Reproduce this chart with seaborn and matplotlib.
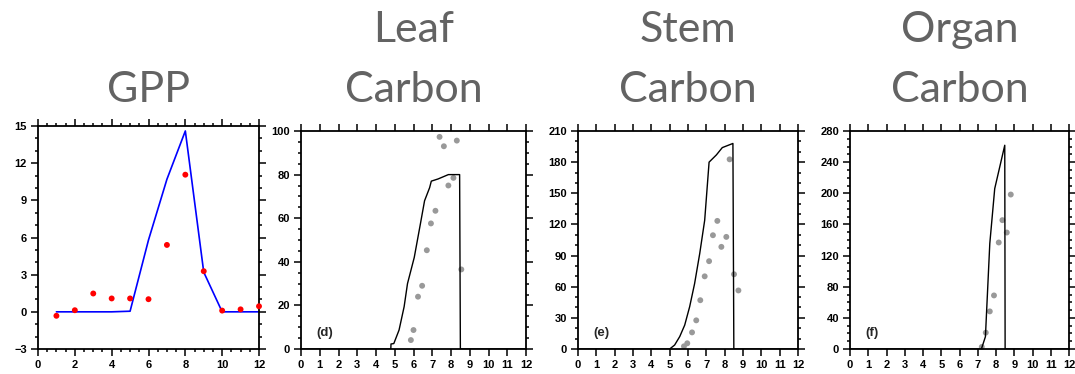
import matplotlib
matplotlib.use('Agg')
import matplotlib.pyplot as plt
from matplotlib.ticker import MultipleLocator
import seaborn as sns

# GPP panel (monthly)
gpp_month = [1, 2, 3, 4, 5, 6, 7, 8, 9, 10, 11, 12]
gpp_model = [0, 0, 0, 0, 0.05, 5.8, 10.7, 14.6, 3.2, 0, 0, 0]
gpp_obs = [-0.32, 0.13, 1.48, 1.08, 1.08, 1.02, 5.4, 11.07, 3.28, 0.1, 0.2, 0.45]

# Leaf carbon
leaf_x = [0, 4.79, 4.8, 4.95, 5.23, 5.5, 5.68, 6.04, 6.37, 6.59, 6.86, 6.95, 7.31, 7.86, 8.46, 8.5, 12]
leaf_y = [0, 0, 2.3, 2.5, 8.7, 19.4, 30, 42, 57.5, 68, 74, 77, 78, 80, 80, 0, 0]
leaf_obs_x = [5.86, 6.0, 6.24, 6.46, 6.71, 6.93, 7.17, 7.39, 7.62, 7.86, 8.13, 8.31, 8.55]
leaf_obs_y = [4.1, 8.7, 24, 29, 45.3, 57.6, 63.4, 97.3, 93, 75, 78.5, 95.6, 36.5]

# Stem carbon
stem_x = [0, 5.0, 5.27, 5.55, 5.82, 6.09, 6.36, 6.64, 6.91, 7.15, 7.55, 7.87, 8.45, 8.5, 12]
stem_y = [0, 0, 3.8, 12, 23, 40.7, 63, 92, 124, 180, 187, 194, 198, 0, 0]
stem_obs_x = [5.78, 5.96, 6.22, 6.45, 6.67, 6.91, 7.15, 7.36, 7.6, 7.82, 8.09, 8.27, 8.51, 8.75]
stem_obs_y = [2.6, 5.5, 16, 27.6, 47, 70, 84.6, 109.6, 123.4, 98.4, 108, 182.7, 72, 56.4]

# Organ carbon
organ_x = [0, 7.2, 7.42, 7.66, 7.93, 8.48, 8.5, 12]
organ_y = [0, 0, 15.8, 135.5, 206, 261.7, 0, 0]
organ_obs_x = [7.22, 7.44, 7.66, 7.89, 8.15, 8.35, 8.59, 8.81]
organ_obs_y = [2.6, 21, 48.3, 68.8, 136.8, 165.5, 149.6, 198.4]

sns.set_style('ticks')
plt.rcParams['font.family'] = ['Liberation Sans', 'DejaVu Sans']

W, H = 1075, 374
fig = plt.figure(figsize=(W / 100, H / 100), dpi=100)


def make_ax(left, top, right, bottom):
    return fig.add_axes([left / W, 1 - bottom / H, (right - left) / W, (bottom - top) / H])


def style_ax(ax, xmaj, xmin, ymaj, ymin, ylim):
    ax.set_xlim(0, 12)
    ax.set_ylim(*ylim)
    ax.xaxis.set_major_locator(MultipleLocator(xmaj))
    ax.xaxis.set_minor_locator(MultipleLocator(xmin))
    ax.yaxis.set_major_locator(MultipleLocator(ymaj))
    ax.yaxis.set_minor_locator(MultipleLocator(ymin))
    ax.tick_params(which='both', direction='out', top=True, right=True,
                   labelsize=8, width=1.1, colors='black', pad=3)
    ax.tick_params(which='major', length=5)
    ax.tick_params(which='minor', length=2.5)
    for lab in ax.get_xticklabels() + ax.get_yticklabels():
        lab.set_fontweight('bold')
    for s in ax.spines.values():
        s.set_visible(True)
        s.set_linewidth(1.3)
        s.set_color('black')
    ax.set_xlabel('')
    ax.set_ylabel('')


title_kw = dict(fontsize=31, color='#636363', family='Lato', ha='center', va='baseline')

# GPP
ax1 = make_ax(38, 126, 259, 349)
sns.lineplot(x=gpp_month, y=gpp_model, ax=ax1, color='#0000ff', lw=1.2, sort=False, estimator=None)
sns.scatterplot(x=gpp_month, y=gpp_obs, ax=ax1, color='#ff0000', s=18, edgecolor='none', clip_on=False, zorder=5)
style_ax(ax1, 2, 0.5, 3, 1, (-3, 15))
fig.text((38 + 259) / 2 / W, 1 - 102 / H, 'GPP', **title_kw)

panels = [
    ((301, 131, 526, 349), leaf_x, leaf_y, leaf_obs_x, leaf_obs_y, 20, 5, (0, 100), '(d)', 'Leaf'),
    ((578, 131, 798, 349), stem_x, stem_y, stem_obs_x, stem_obs_y, 30, 10, (0, 210), '(e)', 'Stem'),
    ((850, 131, 1069, 349), organ_x, organ_y, organ_obs_x, organ_obs_y, 40, 10, (0, 280), '(f)', 'Organ'),
]
for box, lx, ly, ox, oy, ymaj, ymin, ylim, tag, name in panels:
    ax = make_ax(*box)
    sns.lineplot(x=lx, y=ly, ax=ax, color='black', lw=1.0, sort=False, estimator=None)
    sns.scatterplot(x=ox, y=oy, ax=ax, color='#999999', s=18, edgecolor='none', clip_on=False)
    style_ax(ax, 1, 1, ymaj, ymin, ylim)
    ax.text(0.068, 0.045, tag, transform=ax.transAxes, fontsize=9.5, fontweight='bold',
            ha='left', va='bottom')
    cx = (box[0] + box[2]) / 2 / W
    fig.text(cx, 1 - 42 / H, name, **title_kw)
    fig.text(cx, 1 - 102 / H, 'Carbon', **title_kw)

fig.savefig('out.png', dpi=100)
